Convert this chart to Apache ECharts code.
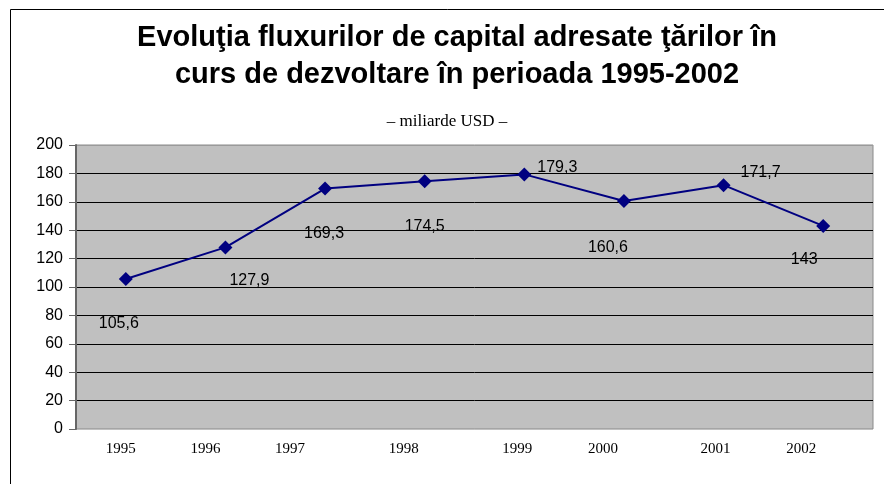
<!DOCTYPE html>
<html>
<head>
<meta charset="utf-8">
<script src="https://cdn.jsdelivr.net/npm/echarts@6/dist/echarts.min.js"></script>
<style>
html,body{margin:0;padding:0;background:#fff;}
#chart{width:884px;height:484px;}
</style>
</head>
<body>
<div id="chart"></div>
<script>
// ---- data ----
const years = ['1995', '1996', '1997', '1998', '1999', '2000', '2001', '2002'];
const flows = [105.6, 127.9, 169.3, 174.5, 179.3, 160.6, 171.7, 143];
const yTicks = [0, 20, 40, 60, 80, 100, 120, 140, 160, 180, 200];

// ---- styles (label placement as in the reference) ----
const labelOffsets = [[-7, 45], [24, 33], [-1, 45], [0, 45], [33, -7], [-16, 47], [37, -13], [-19, 34]];
const xLabelShift = [-5, -20, -35, -21, -7, -21, -8, -22];

const rich = {};
xLabelShift.forEach((s, i) => {
  rich['l' + i] = {
    fontFamily: '"Liberation Serif", "Times New Roman", serif',
    fontSize: 15,
    color: '#000',
    padding: [0, -2 * s, 0, 0]
  };
});

const splitColors = yTicks.map((v, i) => i === 0 ? '#c0c0c0' : (i === yTicks.length - 1 ? '#9a9a9a' : '#000'));

const chart = echarts.init(document.getElementById('chart'));
chart.setOption({
  backgroundColor: '#fff',
  animation: false,
  graphic: [{
    type: 'rect',
    shape: { x: 10.5, y: 9.5, width: 900, height: 520 },
    style: { fill: 'none', stroke: '#000', lineWidth: 1 },
    silent: true
  }],
  title: [{
    text: 'Evoluţia fluxurilor de capital adresate ţărilor în\ncurs de dezvoltare în perioada 1995-2002',
    left: 452,
    top: 14,
    textAlign: 'center',
    textStyle: {
      fontFamily: '"Liberation Sans", Arial, sans-serif',
      fontWeight: 'bold',
      fontSize: 29,
      lineHeight: 37,
      color: '#000'
    }
  }, {
    text: '– miliarde USD –',
    left: 442,
    top: 108,
    textAlign: 'center',
    textStyle: {
      fontFamily: '"Liberation Serif", "Times New Roman", serif',
      fontWeight: 'normal',
      fontSize: 17,
      color: '#000'
    }
  }],
  grid: {
    left: 76, right: 11, top: 145, bottom: 55,
    show: true,
    backgroundColor: '#c0c0c0',
    borderColor: '#8a8a8a',
    borderWidth: 1
  },
  xAxis: {
    type: 'category',
    data: years,
    boundaryGap: true,
    axisLine: { show: false },
    axisTick: { show: false },
    axisLabel: {
      margin: 13,
      formatter: (v, i) => '{l' + i + '|' + v + '}',
      rich: rich
    }
  },
  yAxis: {
    type: 'value',
    min: 0, max: 200, interval: 20,
    axisLine: { show: true, lineStyle: { color: '#666', width: 2 } },
    axisTick: { show: true, length: 7, lineStyle: { color: '#666', width: 1 } },
    axisLabel: {
      margin: 13,
      fontFamily: '"Liberation Sans", Arial, sans-serif',
      fontSize: 16,
      color: '#000'
    },
    splitLine: { show: true, lineStyle: { color: splitColors, width: 1 } }
  },
  series: [{
    type: 'line',
    data: flows.map((v, i) => ({
      value: v,
      label: { offset: labelOffsets[i] }
    })),
    symbol: 'diamond',
    symbolSize: 14,
    lineStyle: { color: '#000080', width: 2 },
    itemStyle: { color: '#000080' },
    label: {
      show: true,
      position: 'inside',
      formatter: p => String(p.value).replace('.', ','),
      fontFamily: '"Liberation Sans", Arial, sans-serif',
      fontSize: 16,
      color: '#000'
    }
  }]
});
</script>
</body>
</html>
